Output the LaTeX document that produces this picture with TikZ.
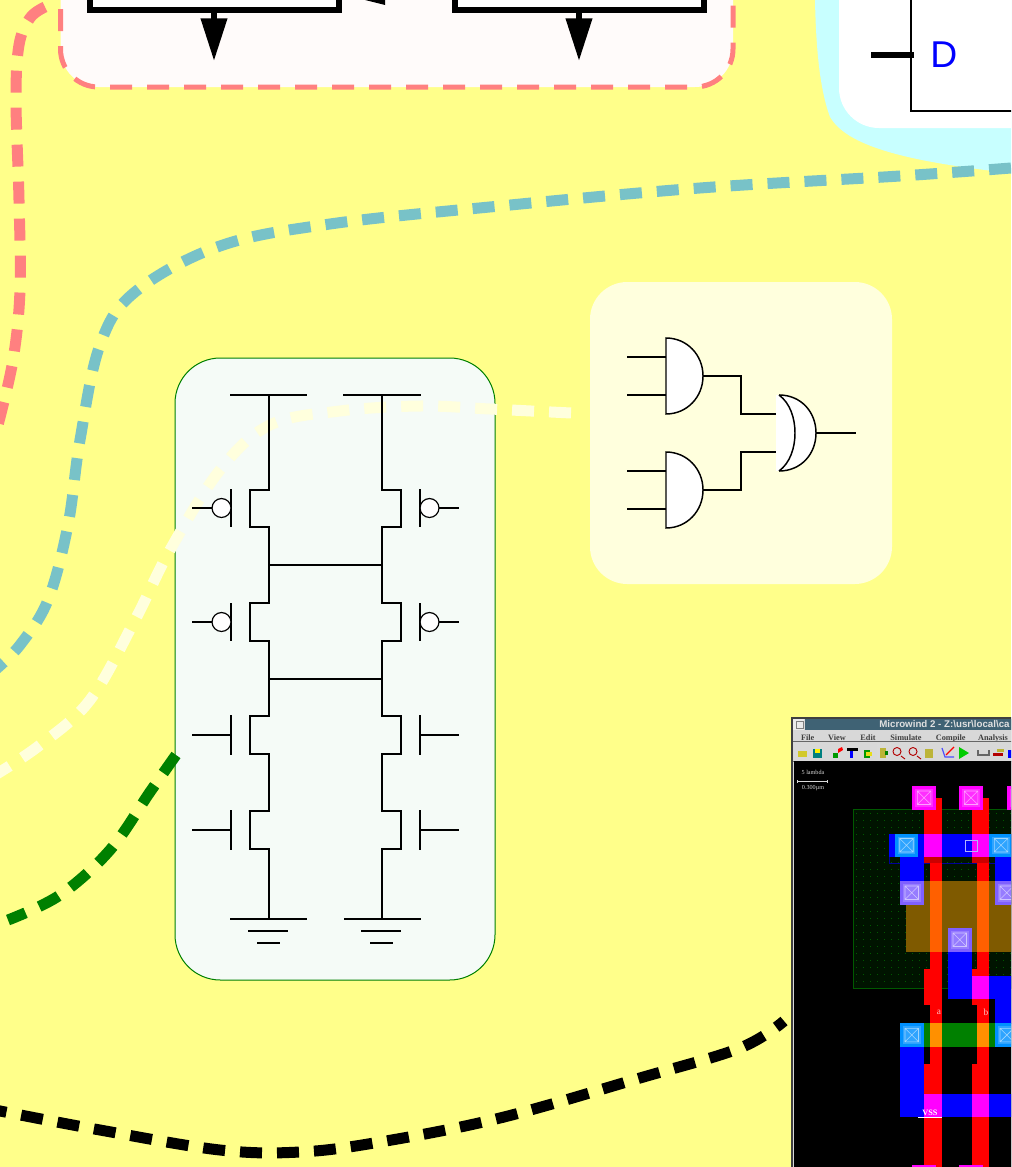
\documentclass[tikz,border=0pt]{standalone}
\usepackage{fontspec}
\setmainfont{Liberation Sans}
\newfontfamily\serifx{Liberation Serif}
\usetikzlibrary{arrows.meta}
\definecolor{bgyel}{HTML}{FFFF8A}
\definecolor{pinkd}{HTML}{FF8080}
\definecolor{pinkf}{HTML}{FFFBFA}
\definecolor{cyanb}{HTML}{C8FFFF}
\definecolor{tealb}{HTML}{78C2C8}
\definecolor{ivory}{HTML}{FFFFDD}
\definecolor{mintf}{HTML}{F5FBF7}
\definecolor{greend}{HTML}{008000}
\definecolor{lmag}{HTML}{FF00FF}
\definecolor{lblu}{HTML}{0000FF}
\definecolor{lsky}{HTML}{0090FF}
\definecolor{lvio}{HTML}{7F60FF}
\definecolor{lbro}{HTML}{7F5A00}
\definecolor{lora}{HTML}{FF6000}
\definecolor{lgrn}{HTML}{008000}
\definecolor{wing}{HTML}{D8D8D8}
\definecolor{titleb}{HTML}{3F6274}
\tikzset{
 flow/.style={line width=8.25pt,dash pattern=on 16.5pt off 11.25pt},
 wire/.style={line width=1.5pt,line cap=butt,line join=miter,black},
 gatebody/.style={fill=white,draw=black,line width=1.1pt},
 bigbox/.style={draw=black,line width=4.5pt,fill=white,inner sep=0pt,outer sep=0pt,anchor=south west},
 bigarrow/.style={line width=4.5pt,-{Triangle[length=32pt,width=19pt]},shorten >=0pt},
 panel/.style={inner sep=0pt,outer sep=0pt,anchor=north west},
}
\newcommand{\lrect}[5]{\fill[#1] (#2,#3) rectangle (#4,#5);}
\newcommand{\lcut}[4]{%
 \fill[white,opacity=.18] (#1+3,#2+3) rectangle (#3-3,#4-3);
 \draw[white,opacity=.55,line width=.45pt] (#1+5,#2+5) rectangle (#3-5,#4-5) (#1+5,#2+5) -- (#3-5,#4-5) (#1+5,#4-5) -- (#3-5,#2+5);}
\begin{document}
\begin{tikzpicture}[x=.75pt,y=-.75pt]
\useasboundingbox (0,0) rectangle (1011,1167);
\clip (0,0) rectangle (1011,1167);
\fill[bgyel] (0,0) rectangle (1011,1167);

% pink panel
\fill[pinkf,rounded corners=28.5pt] (60.5,-100) rectangle (733,87);
\draw[pinkd,line width=3.75pt,dash pattern=on 16.5pt off 11.25pt,rounded corners=28.5pt] (110,87) -- (733,87) -- (733,-20);
\draw[pinkd,line width=3.75pt,dash pattern=on 16.5pt off 11.25pt,dash phase=16.5pt,rounded corners=28.5pt] (110,87) -- (60.5,87) -- (60.5,-20);
\node[bigbox,minimum width=186.75pt,minimum height=90pt] (boxL) at (90,10) {};
\node[bigbox,minimum width=187.1pt,minimum height=90pt] (boxR) at (454.5,10) {};
\coordinate (tipL) at (214,61);
\coordinate (tipR) at (579,61);
\draw[bigarrow] (214,10) -- (tipL);
\draw[bigarrow] (579,10) -- (tipR);
\fill[black] (365,0) -- (385,5) -- (385,0) -- cycle;

% cyan panel
\fill[cyanb] (815,0) .. controls (816,50) and (820,90) .. (830,117) .. controls (845,142) and (890,160) .. (1011,173) -- (1011,0) -- cycle;
\fill[white,rounded corners=30pt] (839,-100) rectangle (1100,128);
\draw[black,line width=1.5pt] (911,-5) -- (911,111) -- (1020,111);
\draw[black,line width=4.5pt] (871,55) -- (914,55);
\node[inner sep=0pt,text=blue,font=\fontsize{28}{28}\selectfont,anchor=base west] (dlabel) at (930,67) {D};

% panels
\node[panel,fill=ivory,rounded corners=28pt,minimum width=226.5pt,minimum height=226.5pt] (logicp) at (590,282) {};
\node[panel,fill=mintf,draw=greend,line width=.75pt,rounded corners=34pt,minimum width=240pt,minimum height=466.5pt] (cmosp) at (175,358) {};

% dashed flows
\draw[flow,pinkd] plot[smooth,tension=.6] coordinates {(45,7) (30,18) (19,45) (16,100) (19,200) (20,290) (13,360) (-2,425)};
\draw[flow,tealb] plot[smooth,tension=.6] coordinates {(1011,168) (900,176) (700,188) (500,206) (330,224) (220,246) (135,292) (100,345) (80,440) (68,525) (48,600) (20,645) (-5,670)};
\draw[flow,ivory] plot[smooth,tension=.6] coordinates {(571,413) (490,409) (420,406) (340,411) (270,425) (220,470) (170,550) (135,620) (90,700) (40,745) (-5,775)};
\draw[flow,greend] plot[smooth,tension=.6] coordinates {(176,755) (150,792) (110,850) (60,895) (8,920)};
\draw[flow,black,dash phase=9pt] plot[smooth,tension=.6] coordinates {(784,1021) (740,1048) (640,1078) (500,1118) (380,1142) (300,1152) (220,1150) (100,1130) (-5,1110)};

% logic gates
\foreach \yc/\n in {376/a,490/b}{
 \draw[wire] (627,\yc-19) -- (666,\yc-19) (627,\yc+19) -- (666,\yc+19);
 \draw[gatebody] (666,\yc-38) .. controls (687,\yc-38) and (703,\yc-21) .. (703,\yc) .. controls (703,\yc+21) and (687,\yc+38) .. (666,\yc+38) -- cycle;
 \coordinate (and\n) at (703,\yc);
}
\fill[white] (776,395) .. controls (800,395) and (816,412) .. (816,433) .. controls (816,454) and (800,471) .. (776,471) -- cycle;
\draw[black,line width=1.1pt] (779,395) .. controls (801,395) and (816,412) .. (816,433) .. controls (816,454) and (801,471) .. (779,471);
\draw[black,line width=1.1pt] (779,395) .. controls (790,403) and (795,418) .. (795,433) .. controls (795,448) and (790,463) .. (779,471);
\coordinate (orin1) at (776,414);
\coordinate (orin2) at (776,452);
\coordinate (orout) at (816,433);
\coordinate (outend) at (856,433);
\draw[wire] (anda) -- (741,376) -- (741,414) -- (orin1);
\draw[wire] (andb) -- (741,490) -- (741,452) -- (orin2);
\draw[wire] (orout) -- (outend);

% CMOS circuit
\draw[wire] (230,395) -- (307,395) (343,395) -- (421,395);
\draw[wire] (230,919) -- (307,919) (344,919) -- (421,919);
\draw[wire] (248,931) -- (288,931) (361,931) -- (401,931);
\draw[wire] (257,943) -- (280,943) (370,943) -- (393,943);
\draw[wire] (269,395) -- (269,490) -- (250,490) -- (250,527) -- (269,527) -- (269,603) -- (250,603) -- (250,641) -- (269,641) -- (269,716) -- (250,716) -- (250,754) -- (269,754) -- (269,811) -- (250,811) -- (250,849) -- (269,849) -- (269,919);
\draw[wire] (382,395) -- (382,490) -- (401,490) -- (401,527) -- (382,527) -- (382,603) -- (401,603) -- (401,641) -- (382,641) -- (382,716) -- (401,716) -- (401,754) -- (382,754) -- (382,811) -- (401,811) -- (401,849) -- (382,849) -- (382,919);
\draw[wire] (269,565) -- (382,565) (269,679) -- (382,679);
\foreach \yc in {508,622}{
 \draw[wire] (231,\yc-19) -- (231,\yc+19) (420,\yc-19) -- (420,\yc+19);
 \draw[wire] (192,\yc) -- (212,\yc) (439,\yc) -- (459,\yc);
 \draw[fill=white,draw=black,line width=.9pt] (221.5,\yc) circle[radius=7.1pt];
 \draw[fill=white,draw=black,line width=.9pt] (429.5,\yc) circle[radius=7.1pt];
}
\foreach \yc in {735,830}{
 \draw[wire] (231,\yc-20) -- (231,\yc+20) (420,\yc-20) -- (420,\yc+20);
 \draw[wire] (192,\yc) -- (231,\yc) (420,\yc) -- (459,\yc);
}

% Screenshot
\fill[black!75!white] (791,717) rectangle (1020,1180);
\fill[wing] (793,719) rectangle (1020,1180);
\fill[white!92!black] (793,719) rectangle (804,730);
\draw[black!50,line width=.5pt] (796,721) rectangle (803,728);
\fill[titleb] (805,719) rectangle (1020,730);
\node[inner sep=0pt,anchor=base west,text=white!88!black,font=\bfseries\fontsize{7.3}{8}\selectfont] (wtitle) at (879,727.5) {Microwind 2 - Z:\textbackslash usr\textbackslash local\textbackslash ca};
\foreach \xx/\tt in {807.7/File,837/View,868/Edit,906/Simulate,950.7/Compile,993/Analysis}{
 \node[inner sep=0pt,anchor=base,text=black!75,font=\serifx\bfseries\fontsize{6.2}{7}\selectfont] at (\xx,740) {\tt};
}
\draw[black!60,line width=.4pt] (793,741.5) -- (1020,741.5) (793,761) -- (1020,761);
\fill[white!85!black] (877,743) rectangle (891,760);
\lrect{yellow!80!black}{798}{751}{807}{757}
\lrect{teal}{813}{749}{822}{758}
\lrect{yellow}{815}{749}{820}{753}
\lrect{green!60!black}{833}{753}{838}{758}
\fill[red] (838,749) -- (842,747) -- (843,750) -- (838,753) -- cycle;
\lrect{black}{847}{748}{858}{751}
\lrect{blue}{850}{751}{853}{758}
\lrect{green!60!black}{864}{750}{870}{758}
\lrect{yellow!90!black}{866}{752}{872}{756}
\lrect{yellow!70!black}{880}{748}{886}{758}
\lrect{green!50!black}{885}{751}{888}{755}
\draw[red!70!black,line width=.7pt] (897,751.5) circle[radius=3pt] (901,756) -- (905,759);
\draw[red!70!black,line width=.7pt] (913,751.5) circle[radius=3pt] (917,756) -- (921,759);
\lrect{yellow!70!black}{925}{749}{933}{758}
\draw[blue!70,line width=.9pt] (942,748) -- (945,757) -- (954,757);
\draw[red,line width=.9pt] (946,755) -- (954,747);
\fill[green!80!black] (959,747) -- (969,753) -- (959,759) -- cycle;
\draw[black!60,line width=.8pt] (978,750) -- (978,755) -- (989,755) -- (989,750);
\lrect{yellow!70!black}{997}{749}{1004}{752}
\lrect{red!70!black}{993}{753}{1003}{756}
\lrect{blue}{1008}{750}{1013}{758}

\fill[black] (794,761) rectangle (1020,1180);
% n-well
\fill[black!92!green] (853,809.5) rectangle (1020,988);
\foreach \xx in {856,863,...,1011}{\foreach \yy in {813,820,...,985}{\fill[green!35!black] (\xx,\yy) rectangle +(.8,.8);}}
\draw[green!35!black,line width=.6pt] (853,988) -- (853,809.5) -- (1020,809.5) (853,988) -- (1020,988);
% scale bar
\node[inner sep=0pt,text=white!85!black,font=\serifx\fontsize{4.6}{5}\selectfont] (lam) at (813,772) {5 lambda};
\draw[white!85!black,line width=.6pt] (797,780) -- (797,783) (797,781.5) -- (827,781.5) (827,780) -- (827,783);
\node[inner sep=0pt,text=white!85!black,font=\serifx\fontsize{4.6}{5}\selectfont] (scl) at (813,788) {0.300µm};
% metal
\lrect{lblu}{889}{833.5}{1020}{856.7}
\draw[lblu!60!black,line width=.5pt] (889,856.7) -- (889,863) -- (995,863);
\lrect{lblu}{900}{856.7}{924}{904}
\lrect{lblu}{995}{856.7}{1020}{904}
\lrect{lblu}{948}{928}{972}{999}
\lrect{lblu}{972}{975.7}{1020}{999}
\lrect{lblu}{995}{999}{1020}{1024}
\lrect{lblu}{900}{1023.3}{924}{1117.3}
\lrect{lblu}{900}{1094}{1020}{1117.3}
% diffusion
\lrect{lbro}{906}{881}{1020}{951.7}
\lrect{lgrn}{924}{1023.3}{995}{1046.7}
% poly
\foreach \xa/\xb/\xc in {924/929.7/941.7,971.7/977.3/989.3}{
 \lrect{red}{\xa}{797.7}{\xc}{863}
 \lrect{red}{\xb}{863}{\xc}{969.3}
 \lrect{red}{\xa}{969.3}{\xc}{1005}
 \lrect{red}{\xb}{1005}{\xc}{1064.3}
 \lrect{red}{\xa}{1064.3}{\xc}{1180}
 \lrect{lmag}{\xa}{833.5}{\xc}{856.7}
 \lrect{red!80!black}{\xa}{856.7}{\xc}{863}
 \lrect{lora}{\xb}{881}{\xc}{951.7}
 \lrect{lora!70!yellow}{\xb}{1023.3}{\xc}{1046.7}
 \lrect{lmag}{\xa}{1094}{\xc}{1117.3}
}
\lrect{lmag}{971.7}{975.7}{989.3}{999}
\lrect{lblu}{948}{928}{971.7}{975.7}
% contacts
\foreach \xa/\ya/\col in {912.3/786/lmag,959.3/786/lmag,1006.7/786/lmag,894.7/833.5/lsky,989.3/833.5/lsky,900/881/lvio,995/881/lvio,948/928/lvio,900/1023.3/lsky,995/1023.3/lsky,912.3/1165/lmag,959.3/1165/lmag}{
 \lrect{\col}{\xa}{\ya}{\xa+23.5}{\ya+23.5}
 \lcut{\xa}{\ya}{\xa+23.5}{\ya+23.5}
}
\draw[white!70!lblu,line width=.4pt] (965,840) rectangle (977,851);
\node[inner sep=0pt,text=pink,font=\serifx\fontsize{7}{7}\selectfont] (labA) at (939,1012) {a};
\node[inner sep=0pt,text=pink,font=\serifx\fontsize{7}{7}\selectfont] (labB) at (986,1012) {b};
\node[inner sep=0pt,text=white,font=\serifx\bfseries\fontsize{6.2}{7}\selectfont] (labV) at (930,1112.5) {VSS};
\draw[white,line width=.5pt] (918,1117) -- (942,1117);
\end{tikzpicture}
\end{document}
